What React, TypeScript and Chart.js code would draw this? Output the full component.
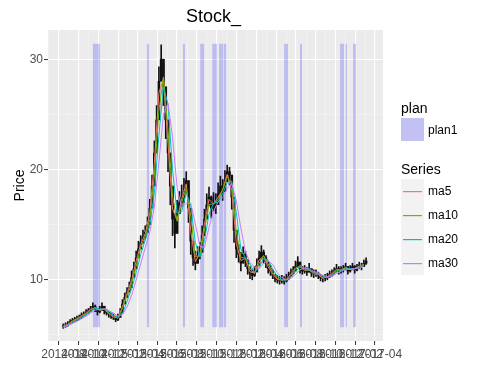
import React, { useEffect, useRef } from 'react';
import { Chart, registerables } from 'chart.js';

Chart.register(...registerables);

// ---------- data ----------
const chartTitle = 'Stock_';
const yTitle = 'Price';
const startDate = '2014-08-01';
const candleStepDays = 7;

const closes = [
  5.8, 5.9, 6.0, 6.2, 6.3, 6.4, 6.5, 6.6, 6.8, 6.9,
  7.0, 7.2, 7.4, 7.6, 7.4, 7.1, 7.3, 7.6, 7.2, 7.0,
  6.9, 6.7, 6.6, 6.4, 6.6, 7.0, 7.8, 8.4, 8.9, 9.3,
  10.2, 11.0, 12.0, 12.8, 13.4, 13.9, 14.3, 15.0, 16.5, 18.5,
  21.5, 24.5, 28.0, 30.0, 27.5, 24.5, 21.5, 18.5, 15.5, 14.2,
  16.0, 17.0, 17.5, 18.0, 19.0, 16.5, 13.5, 12.0, 11.5, 12.2,
  12.5, 14.0, 15.5, 16.8, 17.5, 16.5, 17.0, 16.8, 17.8, 18.5,
  18.0, 19.0, 19.8, 19.5, 17.5, 14.5, 12.8, 12.3, 11.5, 12.3,
  11.8, 11.0, 10.6, 10.4, 10.7, 11.3, 12.0, 12.5, 12.0, 11.6,
  11.0, 10.8, 10.4, 10.1, 10.0, 9.9, 10.0, 9.9, 10.1, 10.3,
  10.6, 10.8, 11.2, 11.6, 11.0, 10.8, 10.9, 10.7, 11.0, 10.6,
  10.5, 10.6, 10.4, 10.2, 10.1, 10.2, 10.3, 10.5, 10.6, 10.8,
  11.0, 10.8, 10.9, 11.0, 11.2, 10.8, 11.0, 11.2, 10.9, 11.1,
  11.3, 11.2, 11.5, 11.7,
];
const highs = [
  6.0, 6.1, 6.2, 6.4, 6.5, 6.6, 6.7, 6.8, 7.0, 7.1,
  7.3, 7.4, 7.6, 7.9, 7.7, 7.4, 7.6, 7.9, 7.6, 7.3,
  7.1, 7.0, 6.9, 6.7, 6.9, 7.4, 8.2, 8.8, 9.3, 9.8,
  10.8, 11.6, 12.6, 13.5, 14.0, 14.5, 14.9, 15.7, 17.3, 19.5,
  22.6, 25.8, 29.3, 31.3, 29.6, 26.8, 23.9, 21.0, 18.0, 16.0,
  17.2, 18.0, 18.6, 19.2, 19.8, 18.6, 15.5, 13.2, 12.6, 13.0,
  13.4, 14.9, 16.4, 17.8, 18.4, 17.6, 17.9, 17.8, 18.8, 19.4,
  19.1, 19.9, 20.4, 20.2, 19.2, 16.5, 14.2, 13.2, 12.5, 13.0,
  12.6, 11.8, 11.2, 10.9, 11.2, 11.9, 12.6, 13.1, 12.7, 12.2,
  11.6, 11.3, 10.9, 10.5, 10.4, 10.3, 10.4, 10.3, 10.5, 10.7,
  11.0, 11.2, 11.7, 12.1, 11.6, 11.2, 11.3, 11.1, 11.5, 11.0,
  10.9, 10.9, 10.7, 10.5, 10.4, 10.5, 10.6, 10.8, 10.9, 11.1,
  11.4, 11.2, 11.2, 11.3, 11.5, 11.2, 11.3, 11.5, 11.3, 11.4,
  11.6, 11.5, 11.8, 12.0,
];
const lows = [
  5.6, 5.7, 5.8, 6.0, 6.1, 6.2, 6.3, 6.4, 6.5, 6.7,
  6.8, 7.0, 7.1, 7.3, 7.1, 6.8, 7.0, 7.2, 6.9, 6.8,
  6.6, 6.5, 6.4, 6.2, 6.3, 6.6, 7.3, 8.0, 8.5, 8.9,
  9.7, 10.4, 11.4, 12.2, 12.8, 13.3, 13.7, 14.4, 15.6, 17.4,
  20.0, 23.0, 26.5, 28.3, 25.8, 22.8, 19.8, 16.8, 14.0, 12.9,
  14.8, 16.0, 16.6, 17.0, 17.8, 15.2, 12.3, 11.3, 10.9, 11.5,
  11.9, 13.0, 14.6, 15.9, 16.7, 15.6, 16.2, 16.0, 17.0, 17.7,
  17.2, 18.2, 18.9, 18.6, 16.4, 13.4, 12.0, 11.6, 10.8, 11.6,
  11.2, 10.5, 10.1, 10.0, 10.3, 10.8, 11.4, 11.9, 11.5, 11.1,
  10.6, 10.4, 10.1, 9.8, 9.7, 9.6, 9.7, 9.6, 9.8, 10.0,
  10.3, 10.5, 10.8, 11.1, 10.6, 10.5, 10.6, 10.4, 10.7, 10.3,
  10.2, 10.3, 10.1, 9.9, 9.8, 9.9, 10.0, 10.2, 10.3, 10.5,
  10.7, 10.5, 10.6, 10.7, 10.9, 10.5, 10.7, 10.9, 10.6, 10.8,
  11.0, 10.9, 11.2, 11.4,
];

const maStepDays = 14;
const ma5 = [
  5.8, 5.97, 6.27, 6.47, 6.74, 6.97, 7.34, 7.46, 7.24, 7.32,
  6.93, 6.63, 6.54, 7.56, 8.75, 9.93, 11.7, 13.22, 14.18, 16.05,
  20.6, 26.95, 28.25, 22.4, 16.4, 15.46, 17.35, 18.7, 14.4, 11.65,
  12.41, 15.05, 17.29, 16.85, 17.5, 18.15, 19.56, 18.1, 13.3, 11.74,
  11.95, 10.72, 10.61, 11.79, 12.15, 11.18, 10.52, 10.03, 9.97, 10.04,
  10.51, 11.08, 11.18, 10.87, 10.91, 10.53, 10.46, 10.13, 10.27, 10.57,
  10.94, 10.87, 11.14, 10.94, 10.99, 11.24, 11.41,
];
const ma10 = [
  5.8, 5.93, 6.2, 6.42, 6.66, 6.92, 7.26, 7.48, 7.24, 7.38,
  7.0, 6.7, 6.52, 7.4, 8.56, 9.62, 11.24, 12.88, 13.96, 15.46,
  19.5, 25.3, 28.4, 23.6, 17.6, 15.3, 17.0, 18.3, 15.8, 12.1,
  12.2, 14.5, 16.82, 16.9, 17.24, 18.16, 19.32, 18.76, 14.42, 12.02,
  11.98, 11.0, 10.56, 11.46, 12.2, 11.44, 10.68, 10.12, 9.96, 10.0,
  10.38, 10.92, 11.32, 10.88, 10.86, 10.64, 10.5, 10.2, 10.22, 10.5,
  10.84, 10.88, 11.06, 10.96, 11.04, 11.16, 11.36,
];
const ma20 = [
  5.75, 5.9, 6.1, 6.35, 6.58, 6.83, 7.13, 7.4, 7.35, 7.3,
  7.18, 6.8, 6.58, 6.95, 8.03, 9.2, 10.63, 12.3, 13.6, 14.93,
  17.88, 23.1, 27.5, 25.9, 20.0, 16.05, 16.18, 17.88, 16.75, 13.38,
  12.05, 13.55, 15.95, 16.95, 17.03, 17.78, 18.83, 18.95, 16.08, 12.78,
  11.98, 11.43, 10.68, 11.1, 11.95, 11.78, 10.95, 10.33, 10.0, 9.98,
  10.23, 10.73, 11.15, 11.08, 10.85, 10.7, 10.53, 10.33, 10.2, 10.4,
  10.73, 10.88, 10.98, 11.0, 10.98, 11.13, 11.28,
];
const ma30 = [
  5.7, 5.85, 6.04, 6.22, 6.47, 6.7, 6.98, 7.25, 7.33, 7.37,
  7.18, 7.0, 6.7, 6.85, 7.52, 8.6, 9.97, 11.45, 12.9, 14.32,
  16.6, 20.67, 25.0, 26.0, 22.9, 18.37, 16.45, 16.95, 16.92, 15.08,
  13.03, 12.95, 14.75, 16.22, 17.07, 17.43, 18.32, 18.72, 17.18, 14.68,
  12.53, 11.58, 11.13, 11.0, 11.48, 11.73, 11.38, 10.65, 10.2, 10.0,
  10.13, 10.48, 10.92, 11.05, 11.0, 10.75, 10.63, 10.4, 10.3, 10.32,
  10.57, 10.77, 10.95, 10.95, 11.02, 11.05, 11.2,
];

const seriesNames = ['ma5', 'ma10', 'ma20', 'ma30'];
const seriesColors = ['#F8766D', '#7CAE00', '#00BFC4', '#C77CFF'];

const planName = 'plan1';
const planStarts = [
  '2014-10-31', '2015-04-15', '2015-08-04', '2015-09-26', '2015-11-02', '2015-11-23',
  '2015-12-07', '2016-06-10', '2016-07-29', '2016-11-29', '2016-12-16', '2017-01-08',
];
const planEnds = [
  '2014-11-22', '2015-04-22', '2015-08-10', '2015-10-08', '2015-11-17', '2015-12-05',
  '2015-12-15', '2016-06-22', '2016-08-04', '2016-12-11', '2016-12-20', '2017-01-17',
];
const planLow = 5.7;
const planHigh = 31.4;

const gridMonths = [
  '2014-07', '2014-08', '2014-09', '2014-10', '2014-11', '2014-12',
  '2015-01', '2015-02', '2015-03', '2015-04', '2015-05', '2015-06',
  '2015-07', '2015-08', '2015-09', '2015-10', '2015-11', '2015-12',
  '2016-01', '2016-02', '2016-03', '2016-04', '2016-05', '2016-06',
  '2016-07', '2016-08', '2016-09', '2016-10', '2016-11', '2016-12',
  '2017-01', '2017-02', '2017-03', '2017-04',
];
const xTickLabels = [
  '2014-08', '2014-10', '2014-12', '2015-02', '2015-04', '2015-06',
  '2015-08', '2015-10', '2015-12', '2016-02', '2016-04', '2016-06',
  '2016-08', '2016-10', '2016-12', '2017-02', '2017-04',
];
const yGridValues = [5, 10, 15, 20, 25, 30];
const yTickLabels = [10, 20, 30];

// ---------- helpers ----------
const DAY = 86400000;
const parseDate = (s: string) => {
  const p = s.split('-').map(Number);
  return Date.UTC(p[0], (p[1] || 1) - 1, p[2] || 1);
};
const origin = parseDate(startDate);
const dayOf = (s: string) => (parseDate(s) - origin) / DAY;

const FONT = "'Liberation Sans', Arial, Helvetica, sans-serif";

export default function App() {
  const ref = useRef<HTMLCanvasElement | null>(null);

  useEffect(() => {
    const canvas = ref.current;
    if (!canvas) return;

    const wicks = closes.map((c, i) => ({ x: i * candleStepDays, y: [lows[i], highs[i]] }));
    const bodies = closes.map((c, i) => {
      const o = i === 0 ? c : closes[i - 1];
      const lo = Math.min(o, c);
      const hi = Math.max(o, c);
      return { x: i * candleStepDays, y: [lo, hi === lo ? hi + 0.05 : hi] };
    });
    const maData = [ma5, ma10, ma20, ma30].map((arr) =>
      arr.map((v, j) => ({ x: j * maStepDays, y: v }))
    );

    const majorX = new Map<number, string>();
    xTickLabels.forEach((l) => majorX.set(dayOf(l), l));
    const xGrid = gridMonths.map(dayOf);
    const yMajor = new Set(yTickLabels);

    const plugin = {
      id: 'ggDecor',
      beforeDraw(chart: any) {
        const { ctx, chartArea: a } = chart;
        ctx.save();
        ctx.fillStyle = '#FFFFFF';
        ctx.fillRect(0, 0, chart.width, chart.height);
        ctx.fillStyle = '#EBEBEB';
        ctx.fillRect(a.left, a.top, a.right - a.left, a.bottom - a.top);
        ctx.restore();
      },
      beforeDatasetsDraw(chart: any) {
        const { ctx, chartArea: a } = chart;
        const xs = chart.scales.x;
        const ys = chart.scales.y;
        ctx.save();
        ctx.beginPath();
        ctx.rect(a.left, a.top, a.right - a.left, a.bottom - a.top);
        ctx.clip();
        ctx.fillStyle = 'rgba(0, 0, 255, 0.2)';
        const yt = ys.getPixelForValue(planHigh);
        const yb = ys.getPixelForValue(planLow);
        planStarts.forEach((s, i) => {
          const x0 = xs.getPixelForValue(dayOf(s));
          const x1 = xs.getPixelForValue(dayOf(planEnds[i]));
          ctx.fillRect(x0, yt, Math.max(1, x1 - x0), yb - yt);
        });
        ctx.restore();
      },
      afterDraw(chart: any) {
        const { ctx, chartArea: a } = chart;
        ctx.save();
        ctx.globalAlpha = 1;
        ctx.globalCompositeOperation = 'source-over';
        // title
        ctx.fillStyle = '#000000';
        ctx.font = `18px ${FONT}`;
        ctx.textAlign = 'center';
        ctx.textBaseline = 'alphabetic';
        ctx.fillText(chartTitle, (a.left + a.right) / 2 - 2, 22);
        // y title
        ctx.save();
        ctx.translate(24, (a.top + a.bottom) / 2);
        ctx.rotate(-Math.PI / 2);
        ctx.font = `14px ${FONT}`;
        ctx.textAlign = 'center';
        ctx.fillText(yTitle, 0, 0);
        ctx.restore();

        // legend: plan
        const lx = 401;
        ctx.textAlign = 'left';
        ctx.font = `14px ${FONT}`;
        ctx.fillStyle = '#000000';
        ctx.fillText('plan', lx, 113);
        ctx.fillStyle = '#F2F2F2';
        ctx.fillRect(lx, 118, 23, 23);
        ctx.fillStyle = 'rgba(0, 0, 255, 0.2)';
        ctx.fillRect(lx, 118, 23, 23);
        ctx.fillStyle = '#000000';
        ctx.font = `12px ${FONT}`;
        ctx.fillText(planName, lx + 27, 134);

        // legend: series
        ctx.font = `14px ${FONT}`;
        ctx.fillText('Series', lx, 174);
        const top0 = 179;
        const rowH = 24;
        seriesNames.forEach((n, i) => {
          const yy = top0 + i * rowH;
          ctx.fillStyle = '#F2F2F2';
          ctx.fillRect(lx, yy, 23, rowH);
          ctx.fillStyle = seriesColors[i];
          ctx.fillRect(lx + 2, yy + rowH / 2, 19, 1.2);
          ctx.fillStyle = '#000000';
          ctx.font = `12px ${FONT}`;
          ctx.fillText(n, lx + 27, yy + rowH / 2 + 4);
        });
        ctx.restore();
      },
    };

    const chart = new Chart(canvas, {
      type: 'bar',
      data: {
        datasets: [
          ...maData.map((d, i) => ({
            type: 'line' as const,
            label: seriesNames[i],
            data: d,
            borderColor: seriesColors[i],
            borderWidth: 1,
            pointRadius: 0,
            tension: 0,
            order: 4 - i,
          })),
          {
            type: 'bar' as const,
            label: 'body',
            data: bodies as any,
            backgroundColor: '#111111',
            barThickness: 2,
            grouped: false,
            order: 10,
          },
          {
            type: 'bar' as const,
            label: 'wick',
            data: wicks as any,
            backgroundColor: '#111111',
            barThickness: 1,
            grouped: false,
            order: 11,
          },
        ],
      },
      options: {
        responsive: false,
        animation: false,
        devicePixelRatio: 1,
        layout: { padding: { top: 30, right: 101, left: 0, bottom: 0 } },
        plugins: { legend: { display: false }, tooltip: { enabled: false }, title: { display: false } },
        scales: {
          x: {
            type: 'linear',
            min: -47,
            max: 983,
            offset: false,
            afterBuildTicks: (s: any) => {
              s.ticks = xGrid.map((v) => ({ value: v }));
            },
            afterFit: (s: any) => {
              s.height = 47;
            },
            ticks: {
              autoSkip: false,
              maxRotation: 0,
              minRotation: 0,
              padding: 2,
              color: '#4D4D4D',
              font: { family: FONT, size: 12 },
              callback: (v: any) => majorX.get(Number(v)) ?? '',
            },
            grid: {
              color: (c: any) => (c.tick && majorX.has(c.tick.value) ? '#FFFFFF' : '#F5F5F5'),
              lineWidth: (c: any) => (c.tick && majorX.has(c.tick.value) ? 1.1 : 0.6),
              drawTicks: true,
              tickLength: 4,
              tickWidth: 1,
              tickColor: (c: any) => (c.tick && majorX.has(c.tick.value) ? '#333333' : 'rgba(0,0,0,0)'),
            },
            border: { display: false },
          },
          y: {
            type: 'linear',
            min: 4.45,
            max: 32.65,
            afterBuildTicks: (s: any) => {
              s.ticks = yGridValues.map((v) => ({ value: v }));
            },
            afterFit: (s: any) => {
              s.width = 48;
            },
            ticks: {
              padding: 1,
              color: '#4D4D4D',
              font: { family: FONT, size: 12 },
              callback: (v: any) => (yMajor.has(Number(v)) ? String(v) : ''),
            },
            grid: {
              color: (c: any) => (c.tick && yMajor.has(c.tick.value) ? '#FFFFFF' : '#F5F5F5'),
              lineWidth: (c: any) => (c.tick && yMajor.has(c.tick.value) ? 1.1 : 0.6),
              drawTicks: true,
              tickLength: 4,
              tickWidth: 1,
              tickColor: (c: any) => (c.tick && yMajor.has(c.tick.value) ? '#333333' : 'rgba(0,0,0,0)'),
            },
            border: { display: false },
          },
        },
      } as any,
      plugins: [plugin],
    });

    return () => chart.destroy();
  }, []);

  return (
    <div style={{ position: 'fixed', left: 0, top: 0, width: 484, height: 388, background: '#FFFFFF' }}>
      <canvas ref={ref} width={484} height={388} style={{ width: 484, height: 388, display: 'block' }} />
    </div>
  );
}
